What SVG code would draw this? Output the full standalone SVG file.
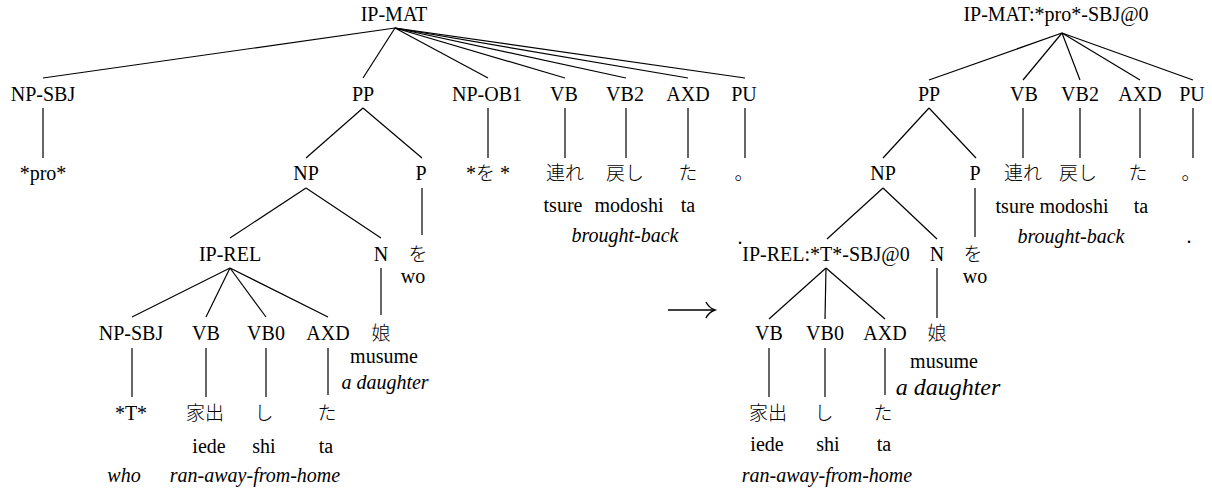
<svg xmlns="http://www.w3.org/2000/svg" width="1212" height="490" viewBox="0 0 1212 490">
<style>
text{font-family:"Liberation Serif","Times New Roman",serif;font-size:20px;fill:#000;text-anchor:middle}
.jp{font-family:"Noto Sans CJK JP",sans-serif;font-size:19px;font-weight:300}
.it{font-style:italic}
.big{font-size:24px}
#connectors line{stroke:#000;stroke-width:1.2}
</style>
<rect width="1212" height="490" fill="#fff"/>
<g id="connectors">
<line x1="395" y1="28" x2="43" y2="78"/>
<line x1="395" y1="28" x2="363" y2="78"/>
<line x1="395" y1="28" x2="488" y2="78"/>
<line x1="395" y1="28" x2="565" y2="78"/>
<line x1="395" y1="28" x2="626" y2="78"/>
<line x1="395" y1="28" x2="688" y2="78"/>
<line x1="395" y1="28" x2="745" y2="78"/>
<line x1="43" y1="108" x2="43" y2="158"/>
<line x1="488" y1="108" x2="488" y2="158"/>
<line x1="565" y1="108" x2="565" y2="158"/>
<line x1="626" y1="108" x2="626" y2="158"/>
<line x1="688" y1="108" x2="688" y2="158"/>
<line x1="745" y1="108" x2="745" y2="158"/>
<line x1="363" y1="108" x2="306" y2="158"/>
<line x1="363" y1="108" x2="422" y2="158"/>
<line x1="422" y1="188" x2="422" y2="235"/>
<line x1="306" y1="188" x2="230" y2="238"/>
<line x1="306" y1="188" x2="381" y2="238"/>
<line x1="381" y1="268" x2="381" y2="315"/>
<line x1="230" y1="268" x2="132" y2="317"/>
<line x1="230" y1="268" x2="206" y2="317"/>
<line x1="230" y1="268" x2="266" y2="317"/>
<line x1="230" y1="268" x2="328" y2="317"/>
<line x1="132" y1="348" x2="132" y2="397"/>
<line x1="206" y1="348" x2="206" y2="397"/>
<line x1="266" y1="348" x2="266" y2="397"/>
<line x1="328" y1="348" x2="328" y2="395"/>
<line x1="1062" y1="33" x2="929" y2="80"/>
<line x1="1062" y1="33" x2="1023" y2="80"/>
<line x1="1062" y1="33" x2="1080" y2="80"/>
<line x1="1062" y1="33" x2="1140" y2="80"/>
<line x1="1062" y1="33" x2="1193" y2="80"/>
<line x1="1023" y1="108" x2="1023" y2="158"/>
<line x1="1080" y1="108" x2="1080" y2="158"/>
<line x1="1140" y1="108" x2="1140" y2="158"/>
<line x1="1193" y1="108" x2="1193" y2="158"/>
<line x1="929" y1="108" x2="883" y2="158"/>
<line x1="929" y1="108" x2="976" y2="158"/>
<line x1="975" y1="188" x2="975" y2="237"/>
<line x1="883" y1="188" x2="827" y2="239"/>
<line x1="883" y1="188" x2="937" y2="239"/>
<line x1="937" y1="268" x2="937" y2="318"/>
<line x1="826" y1="268" x2="769" y2="319"/>
<line x1="826" y1="268" x2="825" y2="319"/>
<line x1="826" y1="268" x2="885" y2="319"/>
<line x1="769" y1="348" x2="769" y2="397"/>
<line x1="825" y1="348" x2="825" y2="397"/>
<line x1="885" y1="348" x2="885" y2="395"/>
</g>
<g id="transform-arrow" fill="none" stroke="#000" stroke-width="1.4">
<line x1="668" y1="310" x2="714" y2="310"/>
<path d="M706,302 Q709,308 715,310 Q709,312 706,318"/>
</g>
<g id="L-IP-MAT"><text x="394" y="21">IP-MAT</text></g>
<g id="L-NP-SBJ"><text x="43" y="101">NP-SBJ</text><text x="43" y="180">*pro*</text></g>
<g id="L-PP"><text x="363" y="101">PP</text></g>
<g id="L-NP-OB1"><text x="487" y="101">NP-OB1</text><text x="488" y="180">*<tspan class="jp">を</tspan> *</text></g>
<g id="L-VB"><text x="564" y="101">VB</text><text class="jp" x="565" y="180">連れ</text><text x="563" y="212">tsure</text></g>
<g id="L-VB2"><text x="625" y="101">VB2</text><text class="jp" x="625" y="180">戻し</text><text x="629" y="212">modoshi</text></g>
<g id="L-AXD"><text x="688" y="101">AXD</text><text class="jp" x="688" y="180">た</text><text x="688" y="212">ta</text></g>
<g id="L-PU"><text x="744" y="101">PU</text><text class="jp" x="744" y="180">。</text></g>
<g id="L-gloss-vp"><text class="it" x="625" y="242">brought-back</text></g>
<g id="L-NP"><text x="306" y="180">NP</text></g>
<g id="L-P"><text x="421" y="180">P</text><text class="jp" x="418" y="261">を</text><text x="413" y="283">wo</text></g>
<g id="L-IP-REL"><text x="230" y="261">IP-REL</text></g>
<g id="L-N"><text x="381" y="261">N</text><text class="jp" x="381" y="340">娘</text><text x="384" y="363">musume</text><text class="it" x="385" y="389">a daughter</text></g>
<g id="L-NP-SBJ2"><text x="131" y="340">NP-SBJ</text><text x="131" y="420">*T*</text><text class="it" x="124" y="482">who</text></g>
<g id="L-VB-rel"><text x="206" y="340">VB</text><text class="jp" x="205" y="420">家出</text><text x="209" y="453">iede</text></g>
<g id="L-VB0"><text x="266" y="340">VB0</text><text class="jp" x="264" y="420">し</text><text x="264" y="453">shi</text></g>
<g id="L-AXD-rel"><text x="328" y="340">AXD</text><text class="jp" x="327" y="420">た</text><text x="326" y="453">ta</text></g>
<g id="L-gloss-rel"><text class="it" x="255" y="482">ran-away-from-home</text></g>
<g id="R-IP-MAT"><text x="1056" y="21">IP-MAT:*pro*-SBJ@0</text></g>
<g id="R-PP"><text x="929" y="101">PP</text></g>
<g id="R-VB"><text x="1024" y="101">VB</text><text class="jp" x="1023" y="180">連れ</text><text x="1015" y="213">tsure</text></g>
<g id="R-VB2"><text x="1080" y="101">VB2</text><text class="jp" x="1078" y="180">戻し</text><text x="1074" y="213">modoshi</text></g>
<g id="R-AXD"><text x="1140" y="101">AXD</text><text class="jp" x="1138" y="180">た</text><text x="1141" y="213">ta</text></g>
<g id="R-PU"><text x="1192" y="101">PU</text><text class="jp" x="1191" y="180">。</text><text x="1189" y="243">.</text></g>
<g id="R-gloss-vp"><text class="it" x="1071" y="243">brought-back</text></g>
<g id="R-NP"><text x="883" y="180">NP</text></g>
<g id="R-P"><text x="975" y="180">P</text><text class="jp" x="973" y="261">を</text><text x="975" y="283">wo</text></g>
<g id="R-IP-REL"><text x="740" y="244">.</text><text x="826" y="261">IP-REL:*T*-SBJ@0</text></g>
<g id="R-N"><text x="937" y="261">N</text><text class="jp" x="937" y="340">娘</text><text x="944" y="368">musume</text><text class="it big" x="948" y="395">a daughter</text></g>
<g id="R-VB-rel"><text x="769" y="340">VB</text><text class="jp" x="768" y="420">家出</text><text x="767" y="451">iede</text></g>
<g id="R-VB0"><text x="825" y="340">VB0</text><text class="jp" x="824" y="420">し</text><text x="828" y="451">shi</text></g>
<g id="R-AXD-rel"><text x="885" y="340">AXD</text><text class="jp" x="883" y="420">た</text><text x="884" y="451">ta</text></g>
<g id="R-gloss-rel"><text class="it" x="827" y="482">ran-away-from-home</text></g>
</svg>
